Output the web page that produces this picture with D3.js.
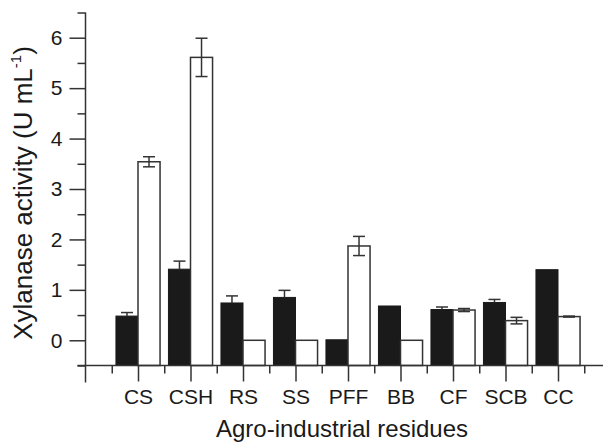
<!DOCTYPE html>
<html>
<head>
<meta charset="utf-8">
<script src="https://cdn.jsdelivr.net/npm/d3@7"></script>
<style>
  body { margin: 0; background: #fff; }
  svg { display: block; font-family: Arial, "Liberation Sans", sans-serif; }
</style>
</head>
<body>
<svg id="chart" width="604" height="443"></svg>
<script>
// residues on the x axis
const residues = ['CS', 'CSH', 'RS', 'SS', 'PFF', 'BB', 'CF', 'SCB', 'CC'];
// filled bars and their error
const darkVals = [0.48, 1.41, 0.74, 0.85, 0.01, 0.68, 0.61, 0.75, 1.40];
const darkErr  = [0.07, 0.16, 0.14, 0.14, 0,    0,    0.05, 0.06, 0];
// open bars and their error
const openVals = [3.54, 5.61, 0, 0, 1.87, 0, 0.60, 0.39, 0.47];
const openErr  = [0.10, 0.38, 0, 0, 0.19, 0, 0.03, 0.065, 0.01];
const yMajor = [0, 1, 2, 3, 4, 5, 6];
const yMinor = [-0.5, 0.5, 1.5, 2.5, 3.5, 4.5, 5.5, 6.5];

const ink = '#333';
const svg = d3.select('#chart');

const x = d3.scaleLinear().domain([0, 10]).range([85.5, 610.5]);
const y = d3.scaleLinear().domain([-0.5, 6.5]).range([365.5, 12.5]);
const barW = 0.42;
const base = y(-0.5);

// bars
const g = svg.append('g');
residues.forEach((r, i) => {
    const c = i + 1;
    g.append('rect')
        .attr('x', x(c - barW)).attr('width', x(c) - x(c - barW))
        .attr('y', y(darkVals[i])).attr('height', base - y(darkVals[i]))
        .attr('fill', '#1a1a1a').attr('stroke', '#1a1a1a').attr('stroke-width', 1);
    g.append('rect')
        .attr('x', x(c)).attr('width', x(c + barW) - x(c))
        .attr('y', y(openVals[i])).attr('height', base - y(openVals[i]))
        .attr('fill', '#fff').attr('stroke', ink).attr('stroke-width', 1.5);
});

// error bars (filled bars only show the upper half)
function errBar(cx, v, e, upOnly) {
    if (!e) return;
    const cap = 6;
    const lo = upOnly ? v : v - e;
    g.append('line').attr('x1', cx).attr('x2', cx).attr('y1', y(v + e)).attr('y2', y(lo))
        .attr('stroke', ink).attr('stroke-width', 1.5);
    (upOnly ? [v + e] : [v + e, v - e]).forEach(t => {
        g.append('line').attr('x1', cx - cap).attr('x2', cx + cap).attr('y1', y(t)).attr('y2', y(t))
            .attr('stroke', ink).attr('stroke-width', 1.5);
    });
}
residues.forEach((r, i) => {
    errBar(x(i + 1 - barW / 2), darkVals[i], darkErr[i], true);
    errBar(x(i + 1 + barW / 2), openVals[i], openErr[i], false);
});

// y axis
const yAxisG = svg.append('g').attr('transform', `translate(${x(0)},0)`);
yAxisG.call(d3.axisLeft(y).tickValues(yMajor).tickSize(16).tickPadding(7).tickFormat(d3.format('d')));
yAxisG.append('g').call(d3.axisLeft(y).tickValues(yMinor).tickSize(8).tickFormat(''));
yAxisG.selectAll('.domain').remove();
yAxisG.append('line').attr('x1', 0).attr('x2', 0).attr('y1', y(6.5)).attr('y2', 382.5);

// x axis
const xAxisG = svg.append('g').attr('transform', `translate(0,${base})`);
xAxisG.call(d3.axisBottom(x).tickValues(d3.range(1, 10)).tickSize(16).tickPadding(8)
    .tickFormat((d, i) => residues[i]));
xAxisG.append('g').call(d3.axisBottom(x).tickValues(d3.range(0.5, 10, 1)).tickSize(8).tickFormat(''));
xAxisG.selectAll('.domain').remove();
xAxisG.append('line').attr('x1', x(0) - 8).attr('x2', 603).attr('y1', 0).attr('y2', 0);

svg.selectAll('.tick line').attr('stroke', ink).attr('stroke-width', 1.5);
yAxisG.selectAll('line').attr('stroke', ink).attr('stroke-width', 1.5);
xAxisG.selectAll('line').attr('stroke', ink).attr('stroke-width', 1.5);
svg.selectAll('.tick text').attr('font-size', 21).attr('fill', '#1a1a1a')
    .attr('font-family', 'Arial, "Liberation Sans", sans-serif');

// titles
svg.append('text')
    .attr('x', 342).attr('y', 437)
    .attr('text-anchor', 'middle').attr('font-size', 24).attr('fill', '#1a1a1a')
    .text('Agro-industrial residues');

const yt = svg.append('text')
    .attr('transform', 'translate(32,193) rotate(-90)')
    .attr('text-anchor', 'middle').attr('font-size', 26).attr('fill', '#1a1a1a');
yt.append('tspan').text('Xylanase activity (U mL');
yt.append('tspan').attr('font-size', 15).attr('dy', -11).text('-1');
yt.append('tspan').attr('dy', 11).text(')');
</script>
</body>
</html>
